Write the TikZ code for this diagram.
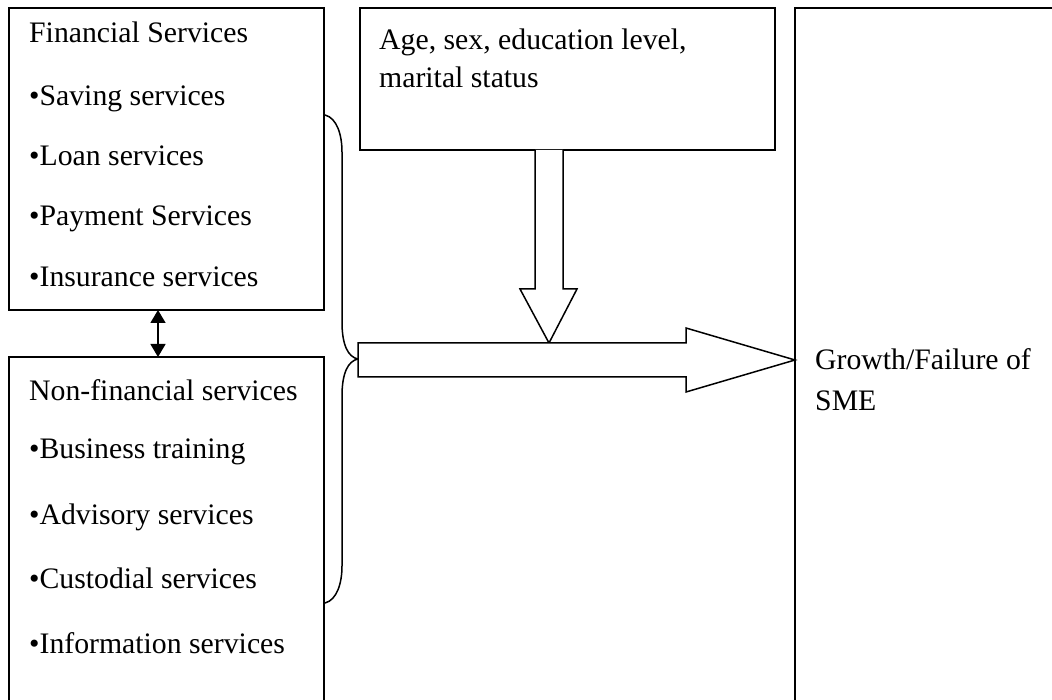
\documentclass[tikz,border=0pt]{standalone}
\usepackage{fontspec}
\setmainfont{Liberation Serif}
\usetikzlibrary{arrows.meta}
\begin{document}
\begin{tikzpicture}[x=1pt,y=-1pt,
  box/.style={draw,line width=1.5pt},
  lbl/.style={anchor=base west,inner sep=0pt,font=\fontsize{29.75}{34}\selectfont},
  blockarrow/.style={draw,line width=1.5pt,fill=white,line join=miter}]
\useasboundingbox (0,0) rectangle (1052,700);
% frames
\draw[box] (9,8) rectangle (324,310);
\draw[box] (9,357) rectangle (324,720);
\draw[box] (360,8) rectangle (775,150);
\draw[box] (795,8) rectangle (1070,720);
% financial services list
\node[lbl] (fin)  at (29,43)  {Financial Services};
\node[lbl] (fin1) at (29,106) {•Saving services};
\node[lbl] (fin2) at (29,166) {•Loan services};
\node[lbl] (fin3) at (29,226) {•Payment Services};
\node[lbl] (fin4) at (29,287) {•Insurance services};
% non-financial services list
\node[lbl] (nfin)  at (29,400) {Non-financial services};
\node[lbl] (nfin1) at (29,458) {•Business training};
\node[lbl] (nfin2) at (29,524) {•Advisory services};
\node[lbl] (nfin3) at (29,588) {•Custodial services};
\node[lbl] (nfin4) at (29,653) {•Information services};
% demographic factors
\node[lbl] (demo)  at (379,50) {Age, sex, education level,};
\node[lbl] (demo2) at (379,88) {marital status};
% outcome
\node[lbl] (out)  at (815,370) {Growth/Failure of};
\node[lbl] (out2) at (815,410) {SME};
% link between the two service groups
\coordinate (finb) at (158,310);
\coordinate (nfint) at (158,357);
\draw[line width=1.5pt,{Triangle[length=13pt,width=15pt]}-{Triangle[length=13pt,width=15pt]}] (finb) -- (nfint);
% brace grouping both service groups
\coordinate (tip) at (358,359);
\draw[line width=1.5pt] (325,115) .. controls (337,118) and (342,135) .. (342,152)
  -- (342,322) .. controls (342,345) and (348,357) .. (tip)
  .. controls (348,361) and (342,373) .. (342,396)
  -- (342,566) .. controls (342,583) and (337,600) .. (325,603);
% downward block arrow from demographic factors
\draw[blockarrow] (535,150) -- (535,289) -- (520,289) -- (549,343) -- (577,289) -- (563,289) -- (563,150);
% block arrow into the outcome
\draw[blockarrow] (tip) |- (686,343) -- (686,328) -- (795,360) -- (686,392) -- (686,377) -| (tip);
\end{tikzpicture}
\end{document}
